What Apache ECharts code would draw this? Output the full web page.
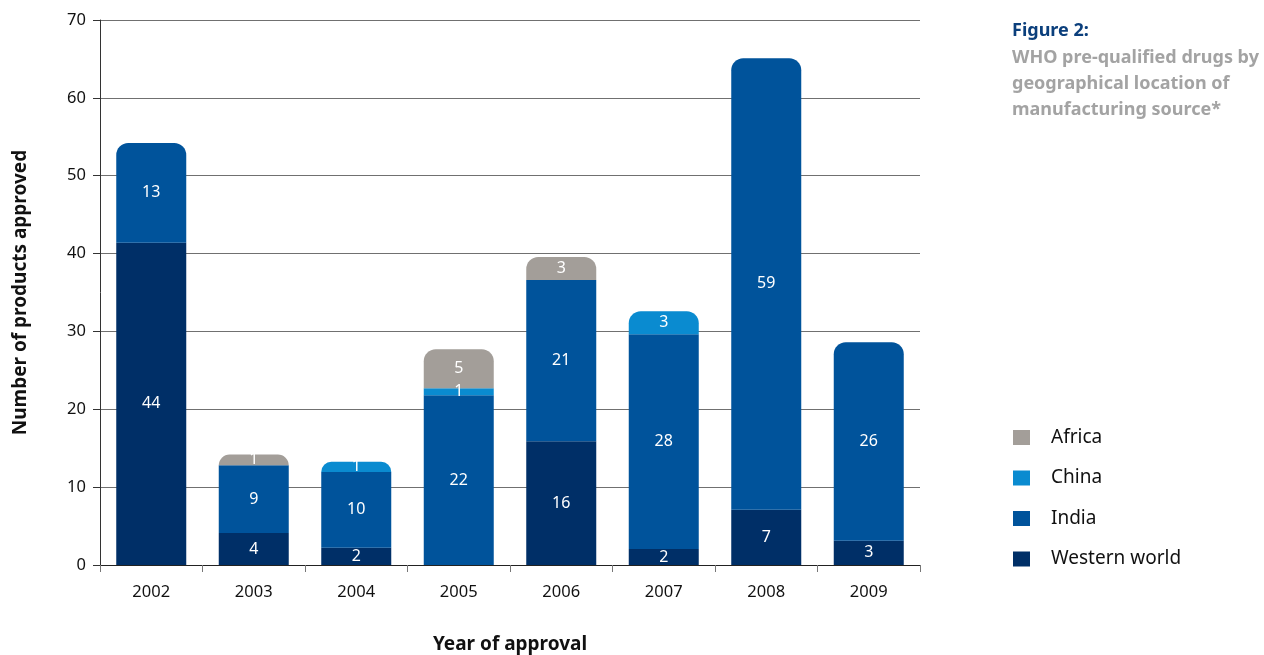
<!DOCTYPE html>
<html>
<head>
<meta charset="utf-8">
<script src="https://cdn.jsdelivr.net/npm/echarts@6/dist/echarts.min.js"></script>
<style>
html,body{margin:0;padding:0;background:#fff;}
#c{width:1264px;height:655px;}
</style>
</head>
<body>
<div id="c"></div>
<script>
// Categories
const years = ['2002','2003','2004','2005','2006','2007','2008','2009'];
// Bar heights as drawn in the picture
const westernVals = [41.4, 4.1, 2.2, 0, 15.9, 2.05, 7.1, 3.1];
const indiaVals   = [12.8, 8.7, 9.75, 21.8, 20.7, 27.6, 58.0, 25.5];
const chinaVals   = [0, 0, 1.3, 0.9, 0, 2.95, 0, 0];
const africaVals  = [0, 1.4, 0, 5.0, 2.95, 0, 0, 0];
// Printed value labels
const westernLabels = [44, 4, 2, null, 16, 2, 7, 3];
const indiaLabels   = [13, 9, 10, 22, 21, 28, 59, 26];
const chinaLabels   = [null, null, 1, 1, null, 3, null, null];
const africaLabels  = [null, 1, null, 5, 3, null, null, null];
// Y ticks
const yMin = 0, yMax = 70, yStep = 10;

const seriesDefs = [
  {name:'Western world', vals: westernVals, labels: westernLabels, color:'#002f67'},
  {name:'India', vals: indiaVals, labels: indiaLabels, color:'#00539b'},
  {name:'China', vals: chinaVals, labels: chinaLabels, color:'#0a8bd0'},
  {name:'Africa', vals: africaVals, labels: africaLabels, color:'#a39e99'}
];

// top segment index per category
const topIdx = years.map((_, i) => {
  let t = 0;
  seriesDefs.forEach((s, k) => { if (s.vals[i] > 0) t = k; });
  return t;
});

const font = '"Noto Sans", "Open Sans", sans-serif';

const series = seriesDefs.map((s, k) => ({
  name: s.name,
  type: 'bar',
  stack: 'total',
  barWidth: 70,
  itemStyle: {color: s.color},
  label: {
    show: true,
    position: ['50%', '50%'],
    align: 'center',
    verticalAlign: 'middle',
    color: '#ffffff',
    fontFamily: font,
    fontSize: 16,
    overflow: 'none',
    formatter: p => (s.labels[p.dataIndex] == null ? '' : String(s.labels[p.dataIndex]))
  },
  labelLayout: {hideOverlap: false},
  data: s.vals.map((v, i) => ({
    value: v,
    itemStyle: topIdx[i] === k ? {borderRadius: [12, 12, 0, 0]} : {borderRadius: 0},
    label: (s.vals[i] > 0 && s.vals[i] < 2) ? {offset: [0, 2]} : {}
  }))
}));

const chart = echarts.init(document.getElementById('c'), null, {renderer: 'canvas'});
chart.setOption({
  animation: false,
  backgroundColor: '#ffffff',
  title: {
    text: 'Figure 2:',
    subtext: 'WHO pre-qualified drugs by\ngeographical location of\nmanufacturing source*',
    left: 1012,
    top: 22,
    padding: 0,
    itemGap: 5,
    textStyle: {color: '#0b3f7c', fontFamily: font, fontWeight: 'bold', fontSize: 18},
    subtextStyle: {color: '#a3a3a3', fontFamily: font, fontWeight: 'bold', fontSize: 18, lineHeight: 26}
  },
  legend: {
    orient: 'vertical',
    left: 1013,
    top: 428,
    padding: 0,
    itemWidth: 17,
    itemHeight: 15,
    itemGap: 21.5,
    icon: 'rect',
    data: ['Africa', 'China', 'India', 'Western world'],
    textStyle: {fontFamily: font, fontSize: 19, color: '#111', padding: [0, 0, 0, 16], lineHeight: 15}
  },
  grid: {left: 100, right: 344, top: 20, bottom: 90, containLabel: false, outerBoundsMode: 'none'},
  xAxis: {
    type: 'category',
    data: years,
    name: 'Year of approval',
    nameLocation: 'middle',
    nameGap: 70,
    nameTextStyle: {fontFamily: font, fontWeight: 'bold', fontSize: 19, color: '#111'},
    axisLine: {lineStyle: {color: '#222', width: 1}},
    axisTick: {show: true, alignWithLabel: false, length: 7, lineStyle: {color: '#777'}},
    axisLabel: {fontFamily: font, fontSize: 16.5, color: '#111', margin: 19}
  },
  yAxis: {
    type: 'value',
    min: yMin,
    max: yMax,
    interval: yStep,
    name: 'Number of products approved',
    nameLocation: 'middle',
    nameGap: 70,
    nameTextStyle: {fontFamily: font, fontWeight: 'bold', fontSize: 19, color: '#111'},
    axisLine: {show: true, lineStyle: {color: '#333', width: 1}},
    axisTick: {show: true, length: 7, lineStyle: {color: '#333'}},
    axisLabel: {fontFamily: font, fontSize: 16.5, color: '#111', margin: 14},
    splitLine: {show: true, lineStyle: {color: '#707070', width: 1}}
  },
  series: series
});
</script>
</body>
</html>
